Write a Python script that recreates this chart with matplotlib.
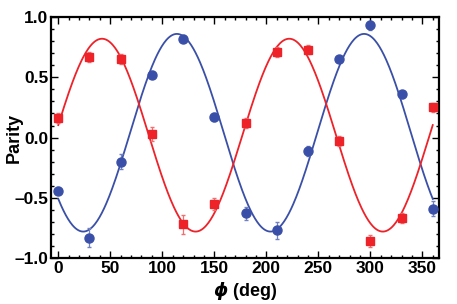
import numpy as np
import matplotlib.pyplot as plt
from matplotlib.ticker import MultipleLocator, FuncFormatter

phi = [0, 30, 60, 90, 120, 150, 180, 210, 240, 270, 300, 330, 360]

blue_y = [-0.44, -0.83, -0.20, 0.52, 0.82, 0.17, -0.63, -0.77, -0.11, 0.65, 0.93, 0.36, -0.59]
blue_err = [0.03, 0.08, 0.06, 0.03, 0.03, 0.03, 0.05, 0.07, 0.04, 0.02, 0.04, 0.03, 0.06]

red_y = [0.16, 0.67, 0.65, 0.03, -0.72, -0.55, 0.12, 0.71, 0.73, -0.03, -0.86, -0.67, 0.25]
red_err = [0.04, 0.04, 0.04, 0.06, 0.08, 0.05, 0.04, 0.04, 0.04, 0.04, 0.05, 0.04, 0.04]

# fit parameters: offset, amplitude, phase (deg), period (deg)
blue_fit = [0.04, 0.82, 114, 180]
red_fit = [0.02, 0.80, 42, 180]

blue_c = '#3a50a8'
red_c = '#ee2229'

plt.rcParams['font.family'] = ['Liberation Sans', 'DejaVu Sans']
plt.rcParams['font.weight'] = 'bold'

fig = plt.figure(figsize=(4.57, 3.04), dpi=100)
ax = fig.add_axes([0.1116, 0.151, 0.849, 0.793])

xs = np.linspace(0, 360, 500)
for p, c in [(blue_fit, blue_c), (red_fit, red_c)]:
    ax.plot(xs, p[0] + p[1] * np.cos(2 * np.pi * (xs - p[2]) / p[3]), color=c, lw=1.3, zorder=2)

ax.errorbar(phi, blue_y, yerr=blue_err, fmt='o', color=blue_c, ms=6.5, ecolor='#7080c0',
            elinewidth=0.9, capsize=1.5, zorder=3)
ax.errorbar(phi, red_y, yerr=red_err, fmt='s', color=red_c, ms=5.5, ecolor='#f07070',
            elinewidth=0.9, capsize=1.5, zorder=3)

ax.set_xlim(-7, 366)
ax.set_ylim(-1, 1)
ax.xaxis.set_major_locator(MultipleLocator(50))
ax.xaxis.set_minor_locator(MultipleLocator(10))
ax.yaxis.set_major_locator(MultipleLocator(0.5))
ax.yaxis.set_minor_locator(MultipleLocator(0.1))
ax.yaxis.set_major_formatter(FuncFormatter(lambda v, _: f'{v:.1f}'.replace('-', '\u2013')))
ax.tick_params(which='both', direction='in', top=True, right=True, labelsize=12.5, width=1, pad=2)
ax.tick_params(which='major', length=5)
ax.tick_params(which='minor', length=2.5)
for s in ax.spines.values():
    s.set_linewidth(1.6)

ax.set_ylabel('Parity', fontsize=13, fontweight='bold')
ax.set_xlabel(r'$\phi$ (deg)', fontsize=13, fontweight='bold')
ax.yaxis.set_label_coords(-0.072, 0.5)
ax.xaxis.set_label_coords(0.5, -0.09)

fig.savefig('out.png', dpi=100)
